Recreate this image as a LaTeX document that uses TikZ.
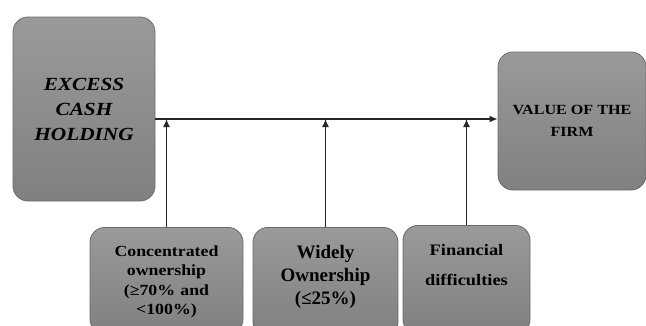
\documentclass[tikz,border=0pt]{standalone}
\usepackage{fontspec}
\setmainfont{Liberation Serif}
\newfontfamily\labelfont{Liberation Serif}
\newfontfamily\widefont{Liberation Serif}[FakeStretch=1.15]
\usepackage{tikz}
\usetikzlibrary{arrows.meta, positioning}
\definecolor{boxtop}{HTML}{9A9A9A}
\definecolor{boxbottom}{HTML}{808080}
\definecolor{boxline}{HTML}{6A6A6A}

\begin{document}
\begin{tikzpicture}[x=1pt, y=-1pt,
    box/.style={rectangle, rounded corners=15pt, draw=boxline, line width=0.8pt, top color=boxtop, bottom color=boxbottom, align=center, inner sep=0pt},
    lowbox/.style={box, anchor=north, inner ysep=18pt, text depth=60pt},
    arrow/.style={-{Latex[length=8pt,width=7pt]}, line width=1.4pt, black!85}
  ]

    \clip (0,0) rectangle (646,325);

    \node[box, minimum width=142pt, minimum height=184pt, text depth=-6pt, font=\widefont\bfseries\itshape\fontsize{18.5}{25}\selectfont] (excess) at (84,109) {EXCESS\\CASH\\HOLDING};
    \node[box, minimum width=148pt, minimum height=138pt, text depth=-12pt, font=\widefont\bfseries\fontsize{14}{22}\selectfont] (value) at (572,121) {VALUE OF THE\\FIRM};

    \node[lowbox, minimum width=153pt, text width=150pt, font=\widefont\bfseries\fontsize{15.5}{19.5}\selectfont] (concentrated) at (166.5,227) {Concentrated\\ownership\\(≥70\% and\\<100\%)};
    \node[lowbox, minimum width=145pt, text width=142pt, font=\labelfont\bfseries\fontsize{19}{23}\selectfont] (widely) at (325.5,227) {Widely\\Ownership\\(≤25\%)};
    \node[lowbox, minimum width=127pt, text width=124pt, font=\widefont\bfseries\fontsize{16}{30}\selectfont, inner ysep=19pt] (financial) at (466.5,225) {Financial\\difficulties};

    \coordinate (start) at (excess.east |- 0,119);
    \draw[arrow] (start) -- (value.west |- start);

    \draw[arrow] (concentrated.north) -- (concentrated.north |- start);
    \draw[arrow] (widely.north) -- (widely.north |- start);
    \draw[arrow] (financial.north) -- (financial.north |- start);

  \end{tikzpicture}
\end{document}
